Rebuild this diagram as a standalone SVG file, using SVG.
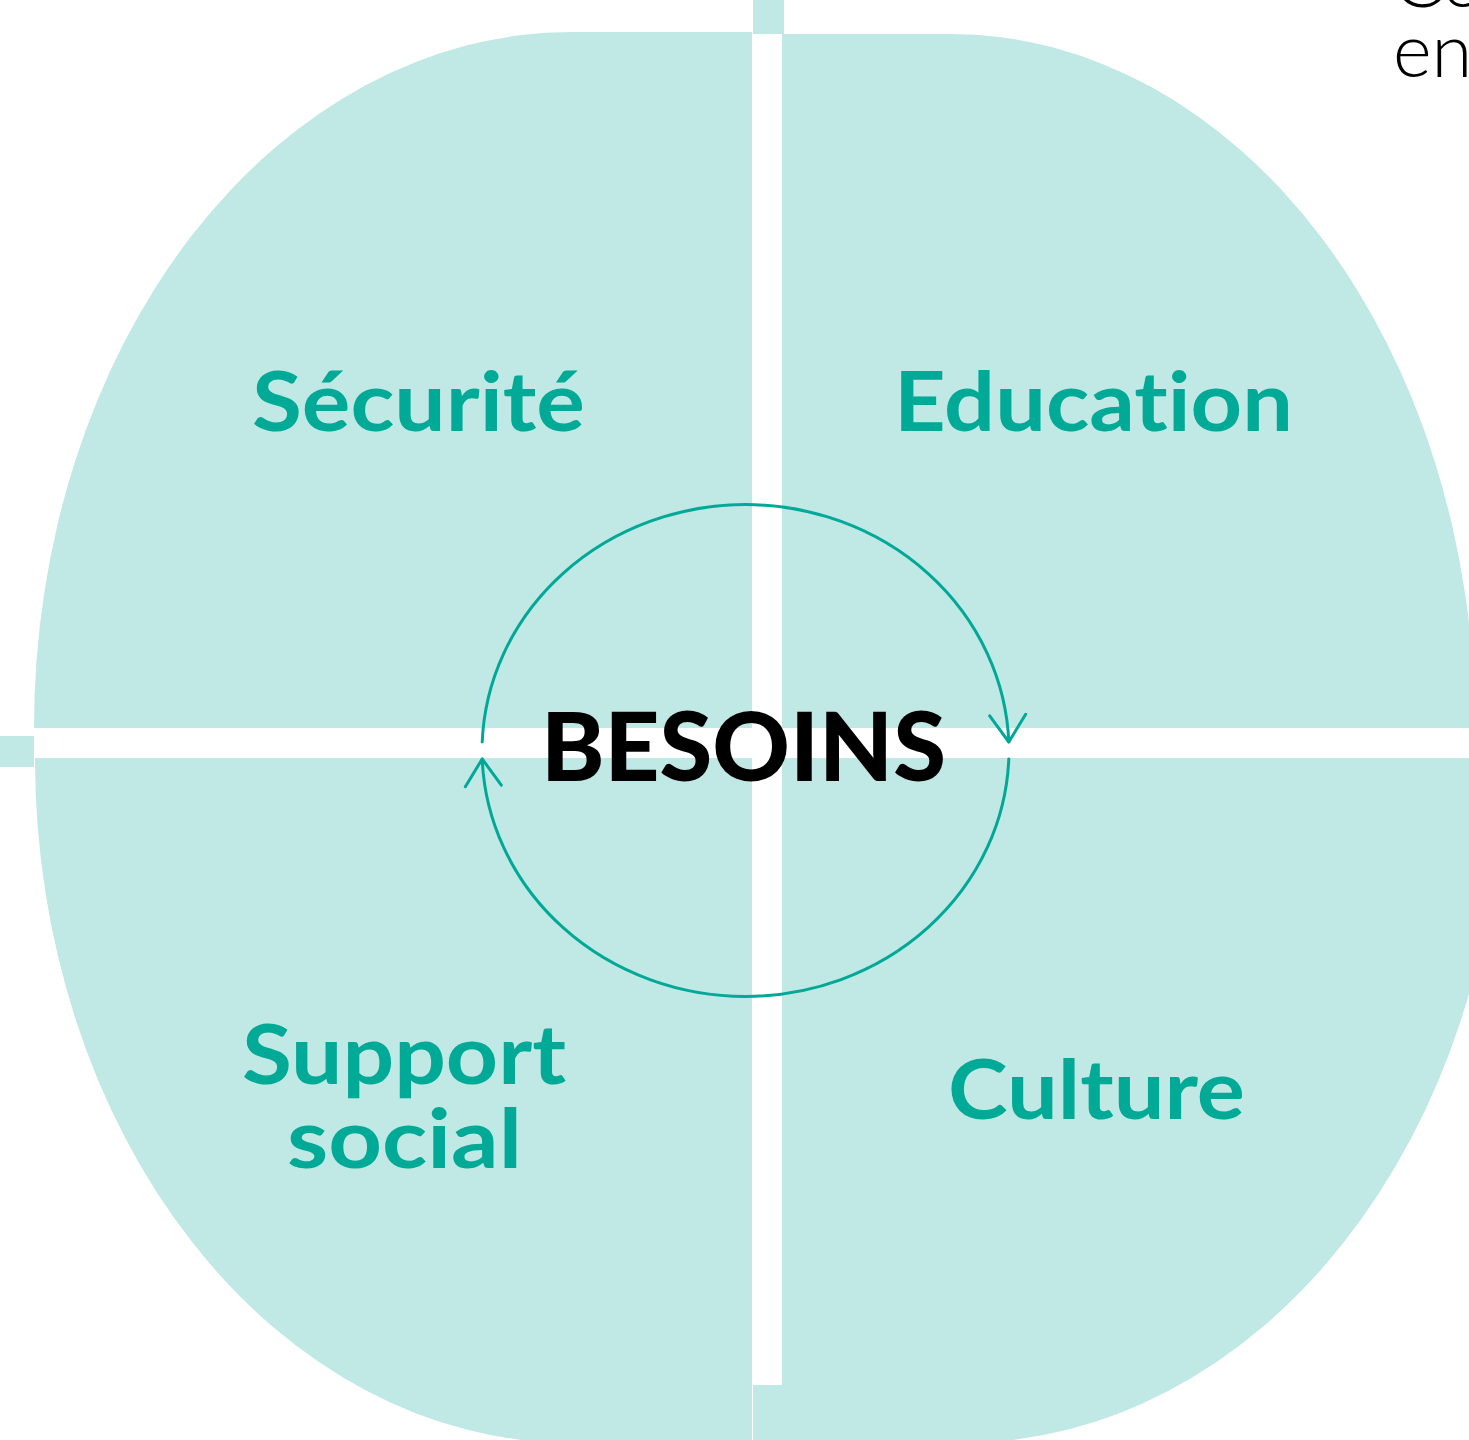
<svg xmlns="http://www.w3.org/2000/svg" width="1469" height="1440" viewBox="0 0 1469 1440">
<style>
text{font-variant-ligatures:none;font-feature-settings:"liga" 0,"clig" 0}
.q{fill:#c0e8e4}
.deco{fill:#c0e8e4}
.lbl{font-family:"Lato","Liberation Sans",sans-serif;font-weight:700;font-size:82px;fill:#00aa96;text-anchor:middle}
.center{font-family:"Lato","Liberation Sans",sans-serif;font-weight:900;font-size:95px;fill:#000000;text-anchor:middle}
.side{font-family:"Lato","Liberation Sans",sans-serif;font-weight:300;font-size:74px;fill:#000000}
.loop{fill:none;stroke:#00a898;stroke-width:3;stroke-linecap:round}
</style>
<defs>
<marker id="arr" markerUnits="userSpaceOnUse" viewBox="-32 -22 36 44" markerWidth="36" markerHeight="44" refX="0" refY="0" orient="auto" overflow="visible">
<path d="M-27,-18 L0,0 L-27,18" fill="none" stroke="#00a898" stroke-width="3" stroke-linecap="round" stroke-linejoin="round"/>
</marker>
</defs>
<rect width="1469" height="1440" fill="#ffffff"/>
<g id="decor">
<rect class="deco" x="753" y="0" width="31" height="34"/>
<rect class="deco" x="0" y="736" width="34" height="31"/>
<rect class="deco" x="753" y="1385" width="29" height="55"/>
<rect x="782" y="1385" width="2" height="55" fill="#93d9d0"/>
</g>
<g id="securite">
<path class="q" d="M752,32 L572,32 A538,696 0 0 0 34,728 L752,728 Z"/>
<text class="lbl" x="418.5" y="431" textLength="333" lengthAdjust="spacingAndGlyphs">Sécurité</text>
</g>
<g id="education">
<path class="q" d="M782,34 L950,34 A525,694 0 0 1 1475,728 L782,728 Z"/>
<text class="lbl" x="1093.5" y="431" textLength="399" lengthAdjust="spacingAndGlyphs">Education</text>
</g>
<g id="support-social">
<path class="q" d="M752,758 L35,758 A537,685 0 0 0 572,1443 L752,1443 Z"/>
<text class="lbl" x="404" y="1084" textLength="324" lengthAdjust="spacingAndGlyphs">Support</text>
<text class="lbl" x="404.5" y="1168" textLength="235" lengthAdjust="spacingAndGlyphs">social</text>
</g>
<g id="culture">
<path class="q" d="M782,758 L1502,758 A540,685 0 0 1 962,1443 L782,1443 Z"/>
<text class="lbl" x="1096.5" y="1119" textLength="297" lengthAdjust="spacingAndGlyphs">Culture</text>
</g>
<g id="connectors">
<path class="loop" d="M482.2,742 A263.5,247 0 0 1 1008.8,742" marker-end="url(#arr)"/>
<path class="loop" d="M1008.8,759 A263.5,247 0 0 1 482.2,759" marker-end="url(#arr)"/>
</g>
<g id="besoins">
<text class="center" x="743.5" y="781" textLength="405" lengthAdjust="spacingAndGlyphs">BESOINS</text>
</g>
<g id="side-text">
<text class="side" x="1393" y="7">Co</text>
<text class="side" x="1393" y="77">en</text>
</g>
</svg>
